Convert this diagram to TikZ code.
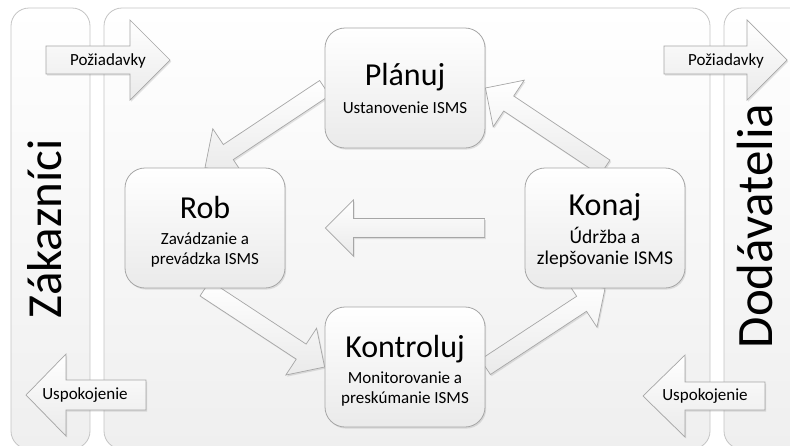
\documentclass[tikz,border=0pt]{standalone}
\usepackage{fontspec}
\setmainfont{Carlito}
\usetikzlibrary{calc,shadows}

\definecolor{edgegray}{HTML}{A6A6A6}
\definecolor{paneledge}{HTML}{C4C4C4}
\definecolor{fillbot}{HTML}{EAEAEA}
\definecolor{panelbot}{HTML}{EFEFEF}

\pgfdeclarelayer{back}
\pgfsetlayers{back,main}

\tikzset{
  panel/.style={draw=paneledge, line width=0.8pt, rounded corners=18pt,
    top color=white, bottom color=panelbot},
  softshadow/.style={drop shadow={shadow xshift=1.2pt, shadow yshift=-1.6pt,
    opacity=0.18, fill=black!60}},
  stage/.style={draw=edgegray, line width=0.8pt, rounded corners=20pt,
    top color=white, bottom color=fillbot, minimum width=160pt,
    minimum height=120pt, inner sep=0pt, softshadow},
  blockarrow/.style={draw=edgegray, line width=0.7pt, line join=miter,
    top color=white, bottom color=fillbot, softshadow},
  title/.style={font=\fontsize{32}{38}\selectfont, anchor=base},
  sub/.style={font=\fontsize{17}{20}\selectfont, anchor=base},
  subbig/.style={font=\fontsize{19.5}{23}\selectfont, anchor=base},
  tag/.style={font=\fontsize{17}{20}\selectfont, anchor=base},
  side/.style={font=\fontsize{49}{56}\selectfont, rotate=90}
}

% block arrow: [style] {tail} {tip} {half shaft} {half head} {head length}
\newcommand\blockarrow[6][]{%
  \coordinate (ba-base) at ($(#3)!#6!(#2)$);
  \path[blockarrow,#1]
    ($(#2)!#4!90:(#3)$) -- ($(ba-base)!#4!90:(#3)$) --
    ($(ba-base)!#5!90:(#3)$) -- (#3) -- ($(ba-base)!#5!-90:(#3)$) --
    ($(ba-base)!#4!-90:(#3)$) -- ($(#2)!#4!-90:(#3)$) -- cycle;}

\begin{document}
\begin{tikzpicture}[x=1pt,y=-1pt]
\useasboundingbox (0,0) rectangle (790,445);
\clip (0,0) rectangle (790,445);

% the three columns
\begin{pgfonlayer}{back}
  \path[panel] (11,8) rectangle (90,449);
  \path[panel] (104,8) rectangle (710,449);
  \path[panel] (724,8) rectangle (812,449);
\end{pgfonlayer}

% column captions
\node[side] (cust) at (45,229) {Zákazníci};
\node[side, font=\fontsize{51}{58}\selectfont] (supp) at (755,226) {Dodávatelia};

% PDCA stages
\node[stage] (plan)  at (405,88)  {};
\node[stage] (do)    at (205,228) {};
\node[stage] (act)   at (605,228) {};
\node[stage] (check) at (405,367) {};

\node[title] (plan-t) at ($(plan.center)+(0,-3)$) {Plánuj};
\node[sub]   (plan-s) at ($(plan.center)+(0,25)$) {Ustanovenie ISMS};

\node[title] (do-t)  at ($(do.center)+(0,-10)$) {Rob};
\node[sub]   (do-s1) at ($(do.center)+(0,16)$)  {Zavádzanie a};
\node[sub]   (do-s2) at ($(do.center)+(0,36)$)  {prevádzka ISMS};

\node[title]  (act-t)  at ($(act.center)+(0,-13)$) {Konaj};
\node[subbig] (act-s1) at ($(act.center)+(0,15)$)  {Údržba a};
\node[subbig] (act-s2) at ($(act.center)+(0,36.5)$)  {zlepšovanie ISMS};

\node[title] (check-t)  at ($(check.center)+(0,-10)$) {Kontroluj};
\node[sub]   (check-s1) at ($(check.center)+(0,16)$)  {Monitorovanie a};
\node[sub]   (check-s2) at ($(check.center)+(0,36)$)  {preskúmanie ISMS};

% cycle arrows, kept behind the stages
\coordinate (ret-tail) at ($(act.west)+(-40,0)$);
\coordinate (ret-tip)  at ($(do.east)+(40,0)$);
\begin{pgfonlayer}{back}
  \blockarrow{plan.west}{do.north}{9pt}{28pt}{28pt}
  \blockarrow{do.south}{check.west}{9pt}{28pt}{28pt}
  \blockarrow{check.east}{act.south}{9pt}{28pt}{28pt}
  \blockarrow{act.north}{plan.east}{9pt}{28pt}{28pt}
  \blockarrow{ret-tail}{ret-tip}{9.5pt}{28pt}{28pt}
\end{pgfonlayer}

% requirements in, satisfaction out
\coordinate (reqL-tail) at (46,60);   \coordinate (reqL-tip) at (170,60);
\coordinate (reqR-tail) at (664,60);  \coordinate (reqR-tip) at (787,60);
\coordinate (satL-tail) at (146,395); \coordinate (satL-tip) at (26,395);
\coordinate (satR-tail) at (765,396); \coordinate (satR-tip) at (643,396);

\blockarrow{reqL-tail}{reqL-tip}{14pt}{40pt}{40pt}
\blockarrow{reqR-tail}{reqR-tip}{14pt}{40pt}{40pt}
\blockarrow{satL-tail}{satL-tip}{15pt}{41pt}{40pt}
\blockarrow{satR-tail}{satR-tip}{14pt}{41pt}{42pt}

\node[tag] (reqL) at (108,65.5) {Požiadavky};
\node[tag] (reqR) at (726,65.5) {Požiadavky};
\node[tag] (satL) at (85,399)   {Uspokojenie};
\node[tag] (satR) at (705,400.5) {Uspokojenie};
\end{tikzpicture}
\end{document}
